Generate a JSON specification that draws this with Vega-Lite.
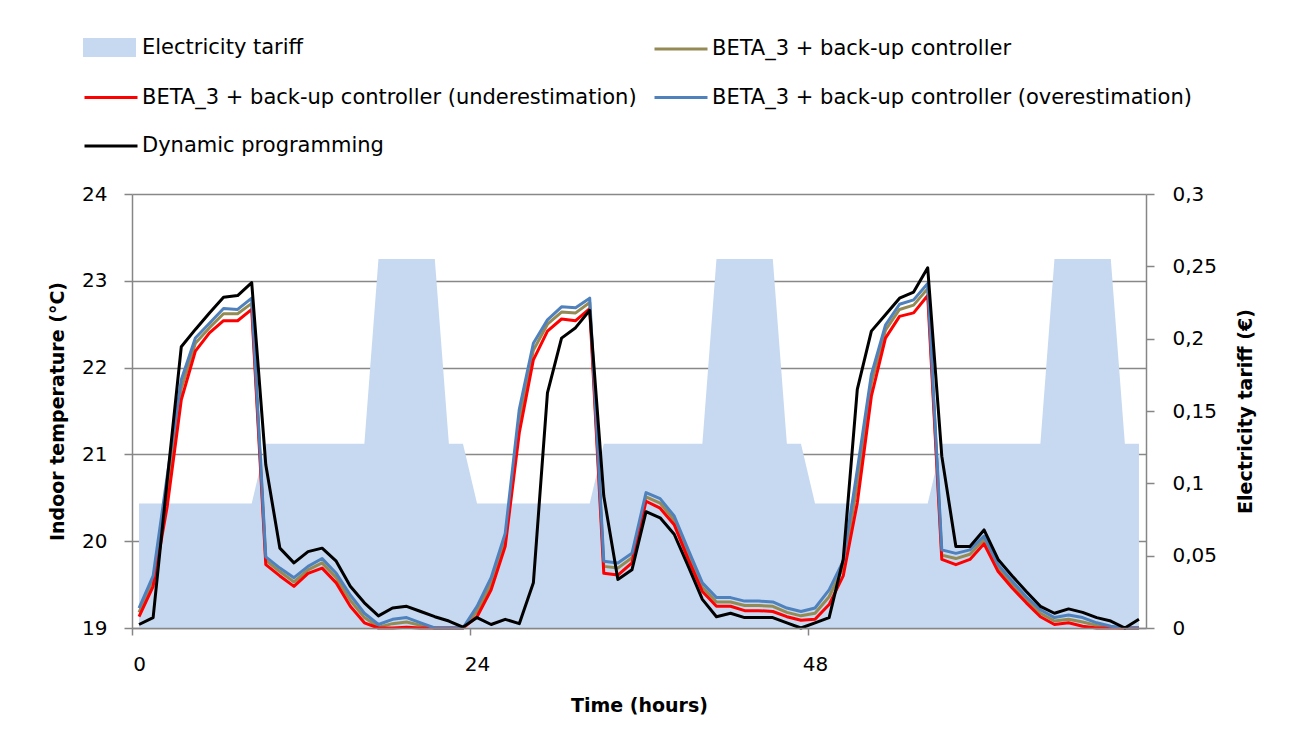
{
  "$schema": "https://vega.github.io/schema/vega-lite/v6.json",
  "width": 1014,
  "height": 434,
  "autosize": {"type": "none"},
  "padding": {"left": 132, "top": 194, "right": 152, "bottom": 119},
  "background": "white",
  "config": {
    "font": "DejaVu Sans",
    "view": {"stroke": null},
    "axis": {
      "domainColor": "#868686",
      "tickColor": "#868686",
      "gridColor": "#888888",
      "gridWidth": 1.5,
      "domainWidth": 1.5,
      "tickWidth": 1.5,
      "labelColor": "#000000",
      "titleColor": "#000000",
      "labelFont": "DejaVu Sans",
      "titleFont": "DejaVu Sans",
      "labelFontSize": 20,
      "titleFontSize": 19,
      "titleFontWeight": "bold"
    }
  },
  "data": {
    "values": [
      {"h": 0, "tariff": 0.086, "base": 19.18, "under": 19.13, "over": 19.23, "dp": 19.04},
      {"h": 1, "tariff": 0.086, "base": 19.54, "under": 19.48, "over": 19.6, "dp": 19.12},
      {"h": 2, "tariff": 0.086, "base": 20.6, "under": 20.4, "over": 20.75, "dp": 20.7},
      {"h": 3, "tariff": 0.086, "base": 21.76, "under": 21.63, "over": 21.86, "dp": 22.24},
      {"h": 4, "tariff": 0.086, "base": 22.28, "under": 22.19, "over": 22.34, "dp": 22.44},
      {"h": 5, "tariff": 0.086, "base": 22.46, "under": 22.4, "over": 22.51, "dp": 22.63},
      {"h": 6, "tariff": 0.086, "base": 22.62, "under": 22.54, "over": 22.68, "dp": 22.81},
      {"h": 7, "tariff": 0.086, "base": 22.62, "under": 22.54, "over": 22.67, "dp": 22.83},
      {"h": 8, "tariff": 0.086, "base": 22.74, "under": 22.67, "over": 22.8, "dp": 22.98},
      {"h": 9, "tariff": 0.1274, "base": 19.78, "under": 19.73, "over": 19.82, "dp": 20.88},
      {"h": 10, "tariff": 0.1274, "base": 19.65, "under": 19.6, "over": 19.69, "dp": 19.92},
      {"h": 11, "tariff": 0.1274, "base": 19.53, "under": 19.48, "over": 19.58, "dp": 19.75},
      {"h": 12, "tariff": 0.1274, "base": 19.67, "under": 19.63, "over": 19.71, "dp": 19.88},
      {"h": 13, "tariff": 0.1274, "base": 19.75, "under": 19.69, "over": 19.8, "dp": 19.92},
      {"h": 14, "tariff": 0.1274, "base": 19.58, "under": 19.52, "over": 19.63, "dp": 19.77},
      {"h": 15, "tariff": 0.1274, "base": 19.32, "under": 19.25, "over": 19.38, "dp": 19.48},
      {"h": 16, "tariff": 0.1274, "base": 19.12, "under": 19.06, "over": 19.17, "dp": 19.29},
      {"h": 17, "tariff": 0.2551, "base": 19.01, "under": 19.0, "over": 19.04, "dp": 19.14},
      {"h": 18, "tariff": 0.2551, "base": 19.05, "under": 19.0, "over": 19.1, "dp": 19.23},
      {"h": 19, "tariff": 0.2551, "base": 19.07, "under": 19.01, "over": 19.12, "dp": 19.25},
      {"h": 20, "tariff": 0.2551, "base": 19.03, "under": 19.0, "over": 19.06, "dp": 19.19},
      {"h": 21, "tariff": 0.2551, "base": 19.0, "under": 19.0, "over": 19.0, "dp": 19.13},
      {"h": 22, "tariff": 0.1274, "base": 19.0, "under": 19.0, "over": 19.0, "dp": 19.08},
      {"h": 23, "tariff": 0.1274, "base": 19.0, "under": 19.0, "over": 19.0, "dp": 19.01},
      {"h": 24, "tariff": 0.086, "base": 19.19, "under": 19.13, "over": 19.25, "dp": 19.12},
      {"h": 25, "tariff": 0.086, "base": 19.51, "under": 19.44, "over": 19.58, "dp": 19.04},
      {"h": 26, "tariff": 0.086, "base": 20.02, "under": 19.94, "over": 20.09, "dp": 19.1},
      {"h": 27, "tariff": 0.086, "base": 21.4, "under": 21.25, "over": 21.52, "dp": 19.05},
      {"h": 28, "tariff": 0.086, "base": 22.2, "under": 22.09, "over": 22.28, "dp": 19.52},
      {"h": 29, "tariff": 0.086, "base": 22.5, "under": 22.42, "over": 22.55, "dp": 21.71},
      {"h": 30, "tariff": 0.086, "base": 22.64, "under": 22.56, "over": 22.7, "dp": 22.34},
      {"h": 31, "tariff": 0.086, "base": 22.63, "under": 22.54, "over": 22.69, "dp": 22.46},
      {"h": 32, "tariff": 0.086, "base": 22.75, "under": 22.68, "over": 22.8, "dp": 22.66},
      {"h": 33, "tariff": 0.1274, "base": 19.71, "under": 19.63, "over": 19.77, "dp": 20.52},
      {"h": 34, "tariff": 0.1274, "base": 19.69, "under": 19.61, "over": 19.75, "dp": 19.56},
      {"h": 35, "tariff": 0.1274, "base": 19.81, "under": 19.75, "over": 19.86, "dp": 19.67},
      {"h": 36, "tariff": 0.1274, "base": 20.51, "under": 20.46, "over": 20.56, "dp": 20.34},
      {"h": 37, "tariff": 0.1274, "base": 20.44, "under": 20.38, "over": 20.49, "dp": 20.27},
      {"h": 38, "tariff": 0.1274, "base": 20.24, "under": 20.19, "over": 20.29, "dp": 20.08},
      {"h": 39, "tariff": 0.1274, "base": 19.85, "under": 19.79, "over": 19.9, "dp": 19.71},
      {"h": 40, "tariff": 0.1274, "base": 19.47, "under": 19.42, "over": 19.52, "dp": 19.33},
      {"h": 41, "tariff": 0.2551, "base": 19.3, "under": 19.25, "over": 19.35, "dp": 19.13},
      {"h": 42, "tariff": 0.2551, "base": 19.3, "under": 19.25, "over": 19.35, "dp": 19.17},
      {"h": 43, "tariff": 0.2551, "base": 19.26, "under": 19.2, "over": 19.31, "dp": 19.12},
      {"h": 44, "tariff": 0.2551, "base": 19.26, "under": 19.2, "over": 19.31, "dp": 19.12},
      {"h": 45, "tariff": 0.2551, "base": 19.25, "under": 19.19, "over": 19.3, "dp": 19.12},
      {"h": 46, "tariff": 0.1274, "base": 19.18, "under": 19.13, "over": 19.23, "dp": 19.06},
      {"h": 47, "tariff": 0.1274, "base": 19.14, "under": 19.09, "over": 19.19, "dp": 19.0},
      {"h": 48, "tariff": 0.086, "base": 19.17, "under": 19.1, "over": 19.23, "dp": 19.06},
      {"h": 49, "tariff": 0.086, "base": 19.36, "under": 19.27, "over": 19.44, "dp": 19.12},
      {"h": 50, "tariff": 0.086, "base": 19.7, "under": 19.6, "over": 19.77, "dp": 19.79},
      {"h": 51, "tariff": 0.086, "base": 20.65, "under": 20.44, "over": 20.82, "dp": 21.75},
      {"h": 52, "tariff": 0.086, "base": 21.82, "under": 21.67, "over": 21.92, "dp": 22.42},
      {"h": 53, "tariff": 0.086, "base": 22.43, "under": 22.34, "over": 22.49, "dp": 22.61},
      {"h": 54, "tariff": 0.086, "base": 22.67, "under": 22.59, "over": 22.73, "dp": 22.8},
      {"h": 55, "tariff": 0.086, "base": 22.72, "under": 22.63, "over": 22.78, "dp": 22.87},
      {"h": 56, "tariff": 0.086, "base": 22.91, "under": 22.83, "over": 22.97, "dp": 23.15},
      {"h": 57, "tariff": 0.1274, "base": 19.84, "under": 19.79, "over": 19.9, "dp": 20.98},
      {"h": 58, "tariff": 0.1274, "base": 19.8, "under": 19.73, "over": 19.86, "dp": 19.94},
      {"h": 59, "tariff": 0.1274, "base": 19.85, "under": 19.79, "over": 19.9, "dp": 19.94},
      {"h": 60, "tariff": 0.1274, "base": 20.02, "under": 19.97, "over": 20.06, "dp": 20.13},
      {"h": 61, "tariff": 0.1274, "base": 19.69, "under": 19.65, "over": 19.73, "dp": 19.79},
      {"h": 62, "tariff": 0.1274, "base": 19.5, "under": 19.46, "over": 19.54, "dp": 19.6},
      {"h": 63, "tariff": 0.1274, "base": 19.33, "under": 19.29, "over": 19.36, "dp": 19.42},
      {"h": 64, "tariff": 0.1274, "base": 19.17, "under": 19.13, "over": 19.21, "dp": 19.25},
      {"h": 65, "tariff": 0.2551, "base": 19.08, "under": 19.04, "over": 19.12, "dp": 19.17},
      {"h": 66, "tariff": 0.2551, "base": 19.1, "under": 19.06, "over": 19.15, "dp": 19.22},
      {"h": 67, "tariff": 0.2551, "base": 19.07, "under": 19.02, "over": 19.12, "dp": 19.18},
      {"h": 68, "tariff": 0.2551, "base": 19.03, "under": 19.0, "over": 19.06, "dp": 19.12},
      {"h": 69, "tariff": 0.2551, "base": 19.01, "under": 19.0, "over": 19.02, "dp": 19.08},
      {"h": 70, "tariff": 0.1274, "base": 19.0, "under": 19.0, "over": 19.0, "dp": 19.0},
      {"h": 71, "tariff": 0.1274, "base": 19.0, "under": 19.0, "over": 19.0, "dp": 19.1}
    ]
  },
  "encoding": {
    "x": {
      "field": "h",
      "type": "quantitative",
      "scale": {"domain": [-0.5, 71.5], "nice": false, "zero": false},
      "axis": {
        "values": [0, 24, 48],
        "title": "Time (hours)",
        "grid": false,
        "tickSize": 7,
        "tickOffset": -7.04,
        "labelOffset": 7.04,
        "labelPadding": 19,
        "titlePadding": 22,
        "zindex": 1
      }
    }
  },
  "layer": [
    {
      "mark": {"type": "area", "opacity": 1, "interpolate": "linear"},
      "encoding": {
        "y": {
          "field": "tariff",
          "type": "quantitative",
          "scale": {"domain": [0, 0.3], "nice": false},
          "axis": {
            "orient": "right",
            "title": "Electricity tariff (€)",
            "values": [0, 0.05, 0.1, 0.15, 0.2, 0.25, 0.3],
            "labelExpr": "replace(format(datum.value, '.2~f'), '.', ',')",
            "grid": false,
            "tickSize": 8,
            "labelPadding": 18,
            "titleAngle": 270,
            "titlePadding": 39
          }
        },
        "fill": {
          "datum": "tariff",
          "type": "nominal",
          "scale": {"domain": ["tariff"], "range": ["#C6D9F1"]},
          "legend": {
            "orient": "none",
            "legendX": -49,
            "legendY": -173,
            "title": null,
            "padding": 0,
            "symbolType": "M-1,-0.36H1V0.36H-1Z",
            "symbolSize": 2809,
            "symbolStrokeWidth": 0,
            "labelFontSize": 21,
            "labelFont": "DejaVu Sans",
            "labelColor": "#000000",
            "labelOffset": 6,
            "labelLimit": 0,
            "labelExpr": "'Electricity tariff'"
          }
        }
      }
    },
    {
      "layer": [
        {
          "mark": {"type": "line", "strokeWidth": 3, "strokeJoin": "round"},
          "encoding": {
            "y": {
              "field": "base",
              "type": "quantitative",
              "scale": {"domain": [19, 24], "nice": false, "zero": false},
              "axis": {"orient": "left", "title": "Indoor temperature (°C)", "values": [19, 20, 21, 22, 23, 24], "grid": true, "tickSize": 8, "labelPadding": 17, "titlePadding": 14}
            },
            "stroke": {
              "datum": "base",
              "type": "nominal",
              "scale": {
                "domain": ["blank", "under", "dp", "base", "over"],
                "range": ["rgba(255,255,255,0)", "#FF0000", "#000000", "#948A54", "#4F81BD"]
              },
              "legend": {
                "orient": "none",
                "legendX": -49,
                "legendY": -173,
                "columns": 2,
                "title": null,
                "padding": 0,
                "symbolType": "stroke",
                "symbolSize": 2809,
                "symbolStrokeWidth": 3,
                "labelFontSize": 21,
                "labelFont": "DejaVu Sans",
                "labelColor": "#000000",
                "labelOffset": 3,
                "labelLimit": 0,
                "columnPadding": 11,
                "rowPadding": 10.5,
                "labelExpr": "datum.value === 'base' ? 'BETA_3 + back-up controller' : datum.value === 'under' ? 'BETA_3 + back-up controller (underestimation)' : datum.value === 'over' ? 'BETA_3 + back-up controller (overestimation)' : datum.value === 'dp' ? 'Dynamic programming' : ''"
              }
            }
          }
        },
        {
          "mark": {"type": "line", "strokeWidth": 3, "strokeJoin": "round"},
          "encoding": {
            "y": {
              "field": "under",
              "type": "quantitative",
              "scale": {"domain": [19, 24], "nice": false, "zero": false},
              "axis": {"orient": "left", "title": "Indoor temperature (°C)", "values": [19, 20, 21, 22, 23, 24], "grid": true, "tickSize": 8, "labelPadding": 17, "titlePadding": 14}
            },
            "stroke": {"datum": "under", "type": "nominal"}
          }
        },
        {
          "mark": {"type": "line", "strokeWidth": 3, "strokeJoin": "round"},
          "encoding": {
            "y": {
              "field": "over",
              "type": "quantitative",
              "scale": {"domain": [19, 24], "nice": false, "zero": false},
              "axis": {"orient": "left", "title": "Indoor temperature (°C)", "values": [19, 20, 21, 22, 23, 24], "grid": true, "tickSize": 8, "labelPadding": 17, "titlePadding": 14}
            },
            "stroke": {"datum": "over", "type": "nominal"}
          }
        },
        {
          "mark": {"type": "line", "strokeWidth": 3, "strokeJoin": "round"},
          "encoding": {
            "y": {
              "field": "dp",
              "type": "quantitative",
              "scale": {"domain": [19, 24], "nice": false, "zero": false},
              "axis": {"orient": "left", "title": "Indoor temperature (°C)", "values": [19, 20, 21, 22, 23, 24], "grid": true, "tickSize": 8, "labelPadding": 17, "titlePadding": 14}
            },
            "stroke": {"datum": "dp", "type": "nominal"}
          }
        }
      ]
    }
  ],
  "resolve": {"scale": {"y": "independent"}}
}
